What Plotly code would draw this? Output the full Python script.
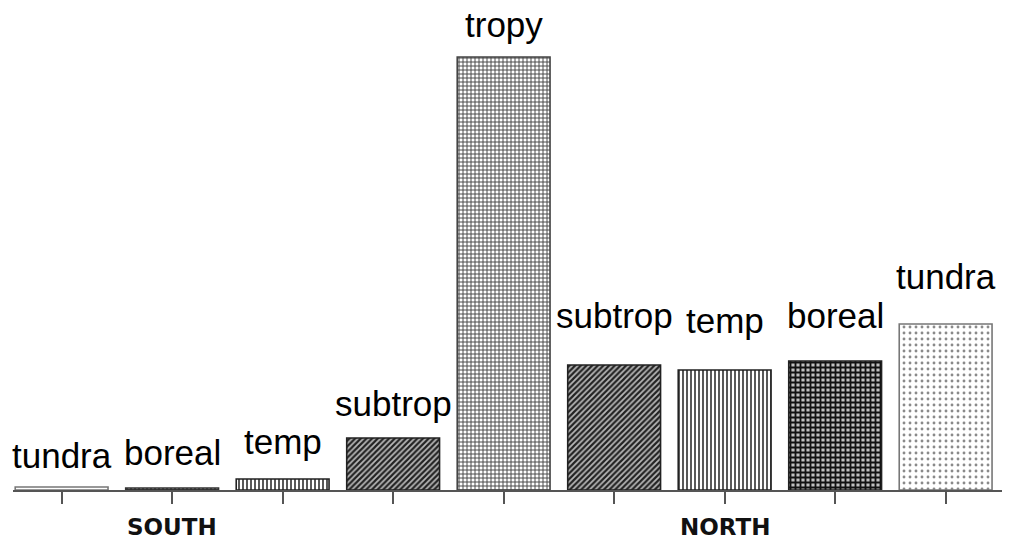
import plotly.graph_objects as go

# ---- data ----
categories = ["S tundra", "S boreal", "S temp", "S subtrop", "tropy",
              "N subtrop", "N temp", "N boreal", "N tundra"]
labels = ["tundra", "boreal", "temp", "subtrop", "tropy",
          "subtrop", "temp", "boreal", "tundra"]
values = [3, 2, 11, 52, 433, 125, 120, 129, 166]
hemisphere_labels = ["SOUTH", "NORTH"]
hemisphere_at = ["S boreal", "N temp"]

# ---- styles ----
pat_shape = ["", "+", "|", "/", "+", "/", "|", "+", "."]
pat_fg = ["#ffffff", "#1a1a1a", "#111111", "#222222", "#444444",
          "#222222", "#111111", "#111111", "#8a8a8a"]
pat_bg = ["#ffffff", "#bdbdbd", "#ffffff", "#b8b8b8", "#ffffff",
          "#b8b8b8", "#ffffff", "#c0c0c0", "#ffffff"]
pat_size = [6, 4, 4, 4, 4, 4, 4, 5, 6]
pat_sol = [0.1, 0.55, 0.35, 0.55, 0.42, 0.55, 0.35, 0.6, 0.18]
line_col = ["#777777", "#333333", "#222222", "#222222", "#444444",
            "#222222", "#222222", "#222222", "#777777"]
label_lift = [10, 14, 16, 13, 11, 28, 28, 24, 26]

fig = go.Figure()
fig.add_trace(go.Bar(
    x=categories, y=values,
    marker=dict(
        color="#ffffff",
        line=dict(color=line_col, width=1.6),
        pattern=dict(shape=pat_shape, fgcolor=pat_fg, bgcolor=pat_bg,
                     size=pat_size, solidity=pat_sol, fillmode="replace"),
    ),
    hoverinfo="skip",
))

annotations = []
for c, lab, v, lift in zip(categories, labels, values, label_lift):
    annotations.append(dict(
        x=c, y=v, xref="x", yref="y", text=lab, showarrow=False,
        xanchor="center", yanchor="bottom", yshift=lift,
        font=dict(family="Arial, Liberation Sans, sans-serif", size=35, color="#000000"),
    ))
for lab, c in zip(hemisphere_labels, hemisphere_at):
    annotations.append(dict(
        x=c, y=0, xref="x", yref="paper", text=lab, showarrow=False,
        xanchor="center", yanchor="middle", yshift=-37,
        borderpad=0, borderwidth=0,
        font=dict(family="DejaVu Sans, sans-serif", size=23, color="#111111",
                  weight="bold"),
    ))

fig.update_layout(
    width=1029, height=543,
    margin=dict(l=13, r=27, t=0, b=53),
    paper_bgcolor="#ffffff", plot_bgcolor="#ffffff",
    showlegend=False, bargap=0.16,
    annotations=annotations,
    xaxis=dict(
        type="category", range=[-0.44, 8.51],
        showline=True, linecolor="#555555", linewidth=1.5,
        ticks="outside", ticklen=12, tickwidth=1.5, tickcolor="#555555",
        showticklabels=False, showgrid=False, zeroline=False, fixedrange=True,
    ),
    yaxis=dict(
        range=[0, 490], visible=False, showgrid=False, zeroline=False,
        fixedrange=True,
    ),
)

fig.write_html("out.html")
